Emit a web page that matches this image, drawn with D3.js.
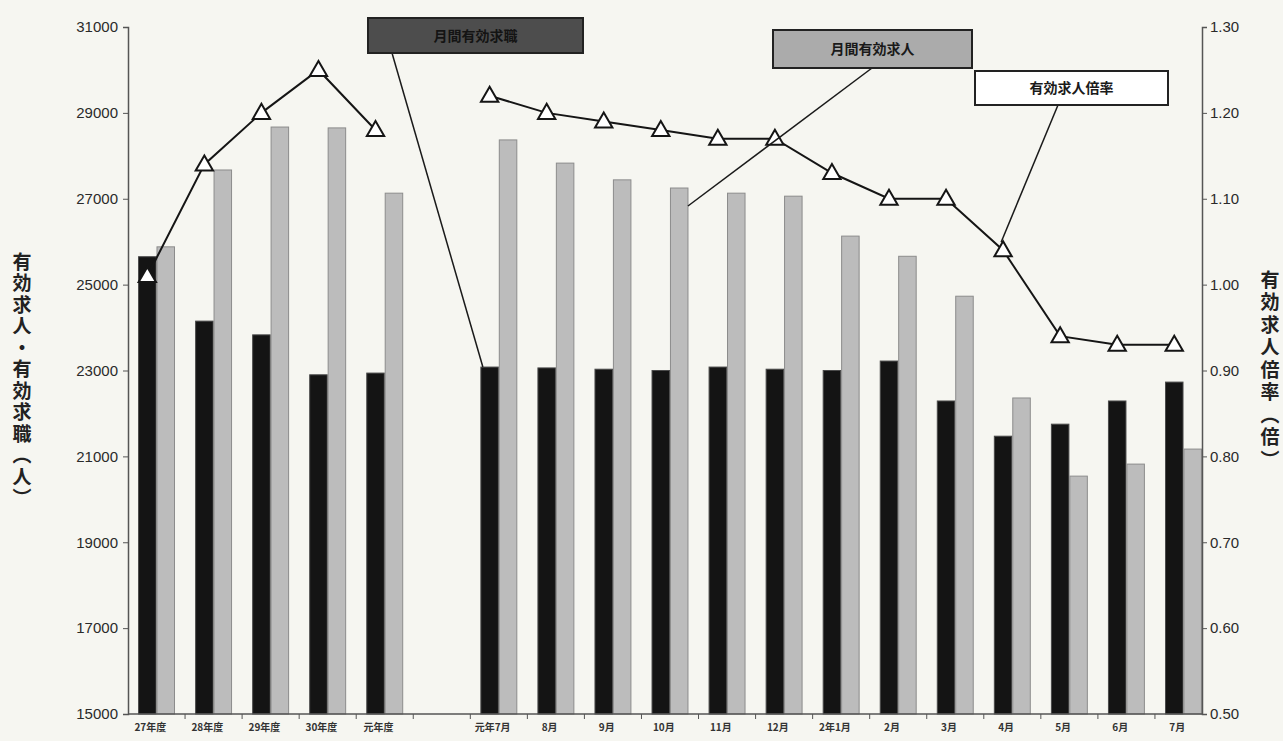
<!DOCTYPE html>
<html><head><meta charset="utf-8">
<script src="https://cdn.jsdelivr.net/npm/d3@7"></script>
<style>
html,body{margin:0;padding:0;background:#f6f6f1;}
svg{display:block;font-family:"Noto Sans CJK JP","Noto Sans",sans-serif;}
</style></head>
<body>
<svg id="chart" width="1283" height="741"></svg>
<script>
const categories = ["27年度","28年度","29年度","30年度","元年度","","元年7月","8月","9月","10月","11月","12月","2年1月","2月","3月","4月","5月","6月","7月"];
const seekers  = [25650,24150,23830,22900,22940,null,23080,23060,23030,23000,23080,23030,23000,23220,22290,21470,21750,22290,22730];
const openings = [25880,27670,28670,28650,27130,null,28370,27830,27440,27250,27130,27060,26130,25660,24730,22360,20540,20820,21170];
const ratio    = [1.01,1.14,1.20,1.25,1.18,null,1.22,1.20,1.19,1.18,1.17,1.17,1.13,1.10,1.10,1.04,0.94,0.93,0.93];
const leftTicks  = [15000,17000,19000,21000,23000,25000,27000,29000,31000];
const rightTicks = [0.50,0.60,0.70,0.80,0.90,1.00,1.10,1.20,1.30];
const seriesNames = ["月間有効求職","月間有効求人","有効求人倍率"];
const leftTitle = "有効求人・有効求職（人）";
const rightTitle = "有効求人倍率（倍）";

const svg = d3.select("#chart");
const L = 128, R = 1202, T = 27, B = 714;
const idx = d3.range(categories.length);
const x = d3.scaleBand().domain(idx).range([L, 1212]).paddingInner(0.37).paddingOuter(0.185);
const xs = d3.scaleBand().domain([0,1]).range([0, x.bandwidth()]).paddingInner(0.05);
const yL = d3.scaleLinear().domain([15000,31000]).range([B,T]);
const yR = d3.scaleLinear().domain([0.5,1.3]).range([B,T]);
const cx = i => x(i) + xs(0) + xs.bandwidth()/2;   // line points sit over the first bar

// bars
const g = svg.append("g");
g.selectAll("rect.seek").data(idx.filter(i=>seekers[i]!=null)).join("rect")
  .attr("x", i=>x(i)+xs(0)).attr("width", xs.bandwidth())
  .attr("y", i=>yL(seekers[i])).attr("height", i=>B-yL(seekers[i]))
  .attr("fill","#141414").attr("stroke","#4a4a4a").attr("stroke-width",1);
g.selectAll("rect.open").data(idx.filter(i=>openings[i]!=null)).join("rect")
  .attr("x", i=>x(i)+xs(1)).attr("width", xs.bandwidth())
  .attr("y", i=>yL(openings[i])).attr("height", i=>B-yL(openings[i]))
  .attr("fill","#bcbcbc").attr("stroke","#8c8c8c").attr("stroke-width",1);

// axes
const axisColor = "#555";
const yAxisL = d3.axisLeft(yL).tickValues(leftTicks).tickSize(5).tickFormat(d3.format("d"));
const gl = svg.append("g").attr("transform",`translate(${L},0)`).call(yAxisL);
const yAxisR = d3.axisRight(yR).tickValues(rightTicks).tickSize(5).tickFormat(d3.format(".2f"));
const gr = svg.append("g").attr("transform",`translate(${R},0)`).call(yAxisR);
[gl,gr].forEach(a=>{
  a.select(".domain").attr("stroke",axisColor).attr("stroke-width",1.5);
  a.selectAll(".tick line").attr("stroke",axisColor);
  a.selectAll(".tick text").attr("fill","#2a2a2a").attr("font-size",15)
    .attr("font-family","Liberation Sans, Arial, sans-serif");
});
gl.selectAll(".tick text").attr("x",-10);
gr.selectAll(".tick text").attr("x",8);

// x axis
svg.append("line").attr("x1",L).attr("x2",R).attr("y1",B).attr("y2",B)
  .attr("stroke",axisColor).attr("stroke-width",1.5);
const bounds = d3.range(1,categories.length).map(i=>x(i)-x.step()*x.paddingInner()/2);
svg.selectAll("line.xt").data(bounds).join("line")
  .attr("x1",d=>d).attr("x2",d=>d).attr("y1",B).attr("y2",B+5)
  .attr("stroke",axisColor);
svg.selectAll("text.xl").data(idx).join("text")
  .attr("x",i=>cx(i)+3).attr("y",B+17)
  .attr("text-anchor","middle").attr("font-size",10).attr("font-weight","bold")
  .attr("fill","#333").text(i=>categories[i]);

// ratio line (broken at null)
const line = d3.line().defined(i=>ratio[i]!=null)
  .x(i=>cx(i)).y(i=>yR(ratio[i]));
svg.append("path").datum(idx).attr("d",line)
  .attr("fill","none").attr("stroke","#151515").attr("stroke-width",2);
const tri = d3.symbol().type(d3.symbolTriangle).size(130);
svg.selectAll("path.mk").data(idx.filter(i=>ratio[i]!=null)).join("path")
  .attr("d",tri).attr("transform",i=>`translate(${cx(i)},${yR(ratio[i])+1})`)
  .attr("fill","#fff").attr("stroke","#151515").attr("stroke-width",2);

// callouts
const boxes = [
  {name:seriesNames[0], x:368, y:18, w:215, h:35, fill:"#4d4d4d", text:"#141414",
   from:[392,53], to:[x(6)+xs(0)+2, yL(seekers[6])]},
  {name:seriesNames[1], x:773, y:30, w:199, h:38, fill:"#ababab", text:"#1a1a1a",
   from:[872,68], to:[x(9)+xs(1)+xs.bandwidth(), yL(openings[9])+18]},
  {name:seriesNames[2], x:975, y:71, w:193, h:34, fill:"#ffffff", text:"#1a1a1a",
   from:[1058,105], to:[cx(15)-2, yR(ratio[15])-8]},
];
boxes.forEach(b=>{
  svg.append("line").attr("x1",b.from[0]).attr("y1",b.from[1])
    .attr("x2",b.to[0]).attr("y2",b.to[1]).attr("stroke","#1a1a1a").attr("stroke-width",1.5);
  svg.append("rect").attr("x",b.x).attr("y",b.y).attr("width",b.w).attr("height",b.h)
    .attr("fill",b.fill).attr("stroke","#222").attr("stroke-width",2);
  svg.append("text").attr("x",b.x+b.w/2).attr("y",b.y+b.h/2+5)
    .attr("text-anchor","middle").attr("font-size",14).attr("font-weight","bold")
    .attr("fill",b.text).text(b.name);
});

// axis titles (vertical)
svg.append("text").attr("x",22).attr("y",252)
  .style("writing-mode","vertical-rl").attr("font-size",19).attr("font-weight","bold")
  .attr("letter-spacing",2.5).attr("fill","#222").text(leftTitle);
svg.append("text").attr("x",1270).attr("y",270)
  .style("writing-mode","vertical-rl").attr("font-size",19).attr("font-weight","bold")
  .attr("letter-spacing",3.5).attr("fill","#222").text(rightTitle);
</script>
</body></html>
